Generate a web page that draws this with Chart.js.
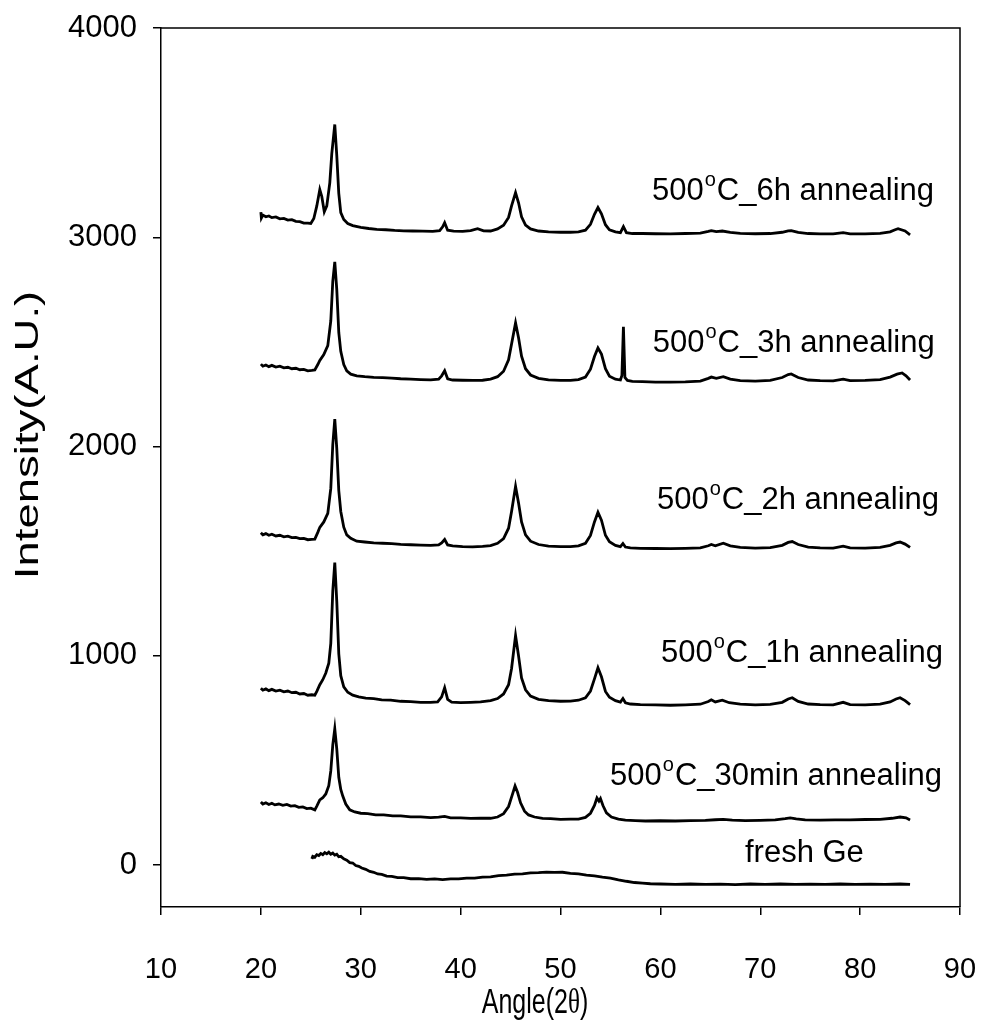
<!DOCTYPE html>
<html>
<head>
<meta charset="utf-8">
<script src="https://cdn.jsdelivr.net/npm/chart.js@4.4.1/dist/chart.umd.min.js"></script>
<style>
html, body { margin: 0; padding: 0; background: #fff; }
canvas { display: block; }
</style>
</head>
<body>
<canvas id="xrd" width="982" height="1030"></canvas>
<script>
// Tick values for both axes
const xTicks = [10, 20, 30, 40, 50, 60, 70, 80, 90];
const yTicks = [0, 1000, 2000, 3000, 4000];

// XRD scans: [2theta (deg), intensity (a.u., offset per sample)]
const freshGe = [[25.1,30],[25.2,42],[25.4,38],[25.6,50],[25.8,46],[26.0,56],[26.2,50],[26.4,60],[26.6,54],[26.8,62],[27.0,52],[27.2,58],[27.4,48],[27.6,52],[27.8,40],[28.0,42],[28.3,30],[28.6,24],[28.9,12],[29.2,10],[29.5,-2],[29.8,-6],[30.1,-14],[30.5,-20],[30.9,-30],[31.3,-34],[31.7,-42],[32.1,-44],[32.6,-52],[33.1,-54],[33.7,-60],[34.3,-60],[35.0,-65],[35.8,-64],[36.6,-68],[37.4,-66],[38.2,-69],[39.0,-66],[39.8,-66],[40.6,-62],[41.4,-62],[42.2,-57],[43.0,-56],[43.8,-50],[44.6,-48],[45.4,-43],[46.2,-42],[47.0,-37],[47.8,-36],[48.6,-33],[49.4,-35],[50.2,-34],[51.0,-39],[51.8,-42],[52.6,-48],[53.4,-51],[54.2,-57],[55.0,-62],[55.8,-70],[56.6,-77],[57.4,-83],[58.2,-86],[59.0,-89],[60.0,-90],[61.5,-92],[63.0,-90],[64.5,-92],[66.0,-91],[67.5,-93],[69.0,-90],[70.5,-92],[72.0,-90],[73.5,-92],[75.0,-91],[76.5,-92],[78.0,-90],[79.5,-92],[81.0,-91],[82.5,-92],[84.0,-90],[85.0,-92]];

const anneal30min = [[20.0,302],[20.2,292],[20.5,298],[20.8,290],[21.1,296],[21.4,288],[21.8,292],[22.2,286],[22.6,290],[23.0,282],[23.4,284],[23.8,276],[24.2,278],[24.6,270],[25.0,272],[25.4,264],[25.6,282],[25.9,312],[26.2,322],[26.5,340],[26.8,380],[27.0,450],[27.2,575],[27.4,651],[27.6,555],[27.8,420],[28.0,362],[28.2,330],[28.5,292],[28.9,264],[29.4,254],[30.0,248],[30.7,246],[31.5,240],[32.3,240],[33.2,235],[34.0,235],[35.0,231],[36.0,231],[37.0,227],[37.8,229],[38.4,233],[39.0,226],[40.0,226],[41.0,223],[42.0,224],[43.0,224],[43.7,230],[44.3,246],[44.8,280],[45.1,325],[45.45,378],[45.7,348],[46.0,298],[46.4,258],[46.8,240],[47.4,230],[48.2,223],[49.0,222],[50.0,219],[51.0,220],[51.8,220],[52.5,228],[53.0,248],[53.4,285],[53.65,321],[53.85,306],[54.0,318],[54.25,285],[54.6,250],[55.1,230],[55.8,220],[56.5,215],[57.5,213],[58.5,211],[60.0,212],[61.5,211],[63.0,213],[64.5,214],[65.5,217],[66.3,219],[67.2,215],[68.5,213],[70.0,214],[71.5,216],[72.5,222],[73.0,226],[73.6,221],[74.5,216],[76.0,215],[77.5,216],[79.0,216],[80.5,218],[82.0,219],[83.2,224],[84.0,230],[84.6,226],[85.0,216]];

const anneal1h = [[20.0,845],[20.2,836],[20.5,842],[20.8,834],[21.1,840],[21.5,832],[21.9,836],[22.3,828],[22.7,832],[23.1,824],[23.5,826],[23.9,818],[24.3,820],[24.7,812],[25.1,814],[25.4,812],[25.6,830],[25.9,862],[26.2,886],[26.5,918],[26.8,965],[27.0,1060],[27.2,1310],[27.4,1446],[27.6,1260],[27.8,1010],[28.0,905],[28.3,852],[28.7,826],[29.2,812],[29.8,804],[30.5,798],[31.3,796],[32.1,790],[33.0,788],[34.0,783],[35.0,781],[36.0,778],[37.0,778],[37.7,780],[38.1,804],[38.4,848],[38.7,792],[39.1,779],[40.0,777],[41.0,778],[42.0,780],[43.0,786],[43.7,796],[44.3,818],[44.8,862],[45.1,940],[45.5,1097],[45.8,1000],[46.1,895],[46.5,838],[47.0,808],[47.8,792],[48.8,786],[50.0,783],[51.0,784],[51.8,788],[52.5,800],[53.0,832],[53.4,890],[53.75,943],[54.1,900],[54.5,830],[54.9,802],[55.5,786],[56.0,779],[56.25,796],[56.5,776],[57.0,770],[58.0,767],[59.5,766],[61.0,764],[62.5,766],[64.0,769],[64.8,782],[65.1,790],[65.5,780],[66.2,788],[66.9,776],[68.0,769],[69.5,766],[71.0,768],[72.2,778],[72.8,794],[73.2,800],[73.8,782],[74.8,770],[76.0,767],[77.3,766],[78.3,778],[79.0,767],[80.5,766],[82.0,769],[83.0,780],[83.6,794],[84.0,800],[84.5,786],[85.0,767]];

const anneal2h = [[20.0,1588],[20.2,1578],[20.5,1584],[20.8,1576],[21.1,1581],[21.5,1573],[21.9,1576],[22.3,1569],[22.7,1572],[23.1,1565],[23.5,1566],[23.9,1560],[24.3,1561],[24.7,1555],[25.1,1557],[25.4,1558],[25.7,1590],[25.9,1614],[26.3,1640],[26.7,1681],[27.0,1800],[27.2,2010],[27.4,2131],[27.6,1990],[27.8,1790],[28.0,1690],[28.3,1615],[28.6,1578],[29.0,1562],[29.6,1548],[30.4,1544],[31.3,1540],[32.2,1538],[33.1,1536],[34.0,1533],[35.0,1531],[36.0,1529],[37.0,1528],[37.8,1530],[38.1,1540],[38.4,1556],[38.7,1530],[39.2,1525],[40.2,1522],[41.2,1521],[42.2,1523],[43.0,1527],[43.7,1538],[44.3,1560],[44.8,1610],[45.1,1690],[45.5,1810],[45.8,1730],[46.1,1640],[46.5,1578],[47.0,1548],[47.8,1532],[48.8,1524],[50.0,1522],[51.0,1522],[51.8,1526],[52.5,1538],[53.0,1575],[53.4,1640],[53.75,1686],[54.1,1648],[54.5,1576],[54.9,1545],[55.5,1528],[56.0,1522],[56.25,1537],[56.5,1520],[57.0,1516],[58.0,1514],[59.5,1513],[61.0,1512],[62.5,1514],[64.0,1516],[64.8,1526],[65.1,1532],[65.5,1526],[66.3,1538],[67.0,1526],[68.0,1518],[69.5,1515],[71.0,1517],[72.2,1528],[72.8,1542],[73.2,1546],[73.8,1532],[74.8,1520],[76.0,1516],[77.3,1515],[78.3,1524],[79.0,1516],[80.5,1515],[82.0,1518],[83.0,1528],[83.6,1540],[84.0,1544],[84.5,1534],[85.0,1518]];

const anneal3h = [[20.0,2394],[20.2,2384],[20.5,2390],[20.8,2382],[21.1,2388],[21.5,2380],[21.9,2384],[22.3,2376],[22.7,2379],[23.1,2372],[23.5,2374],[23.9,2367],[24.3,2369],[24.7,2362],[25.1,2364],[25.4,2366],[25.7,2392],[25.9,2412],[26.3,2440],[26.7,2482],[27.0,2600],[27.2,2790],[27.4,2883],[27.6,2750],[27.8,2545],[28.0,2455],[28.3,2392],[28.6,2362],[29.0,2346],[29.6,2338],[30.4,2334],[31.3,2331],[32.2,2329],[33.1,2327],[34.0,2324],[35.0,2322],[36.0,2320],[37.0,2319],[37.8,2322],[38.1,2338],[38.4,2362],[38.7,2324],[39.2,2318],[40.2,2317],[41.2,2316],[42.2,2317],[43.0,2322],[43.7,2334],[44.3,2360],[44.8,2415],[45.1,2490],[45.5,2591],[45.8,2520],[46.1,2432],[46.5,2372],[47.0,2342],[47.8,2326],[48.8,2319],[50.0,2316],[51.0,2316],[51.8,2320],[52.5,2332],[53.0,2370],[53.4,2430],[53.75,2471],[54.1,2442],[54.5,2372],[54.9,2336],[55.5,2322],[56.0,2318],[56.15,2340],[56.3,2572],[56.45,2330],[56.7,2316],[57.2,2312],[58.2,2310],[59.5,2308],[61.0,2308],[62.5,2309],[64.0,2313],[64.8,2326],[65.1,2332],[65.6,2326],[66.3,2334],[67.0,2322],[68.0,2315],[69.5,2313],[71.0,2316],[72.2,2330],[72.8,2344],[73.1,2347],[73.8,2330],[74.8,2318],[76.0,2315],[77.3,2314],[78.3,2322],[79.0,2315],[80.5,2316],[82.0,2320],[83.0,2332],[83.7,2346],[84.2,2352],[84.6,2338],[85.0,2318]];

const anneal6h = [[20.0,3120],[20.05,3092],[20.2,3106],[20.5,3098],[20.8,3102],[21.1,3094],[21.5,3097],[21.9,3088],[22.3,3090],[22.7,3082],[23.1,3084],[23.5,3076],[23.9,3075],[24.3,3068],[24.7,3068],[25.0,3066],[25.3,3090],[25.6,3150],[25.9,3228],[26.1,3195],[26.35,3122],[26.6,3150],[26.9,3260],[27.1,3400],[27.4,3539],[27.6,3390],[27.8,3210],[28.0,3118],[28.3,3085],[28.7,3066],[29.2,3056],[30.0,3047],[30.8,3042],[31.6,3038],[32.5,3036],[33.4,3033],[34.3,3031],[35.2,3030],[36.2,3029],[37.2,3028],[37.9,3032],[38.2,3050],[38.4,3070],[38.7,3034],[39.3,3029],[40.2,3028],[41.0,3032],[41.7,3041],[42.3,3031],[43.0,3030],[43.7,3040],[44.3,3058],[44.8,3095],[45.1,3150],[45.5,3213],[45.8,3165],[46.1,3098],[46.5,3058],[47.0,3040],[47.8,3030],[48.8,3026],[50.0,3024],[51.0,3024],[51.8,3026],[52.5,3034],[53.0,3062],[53.4,3110],[53.75,3142],[54.1,3112],[54.5,3060],[54.9,3036],[55.5,3026],[56.0,3022],[56.3,3051],[56.6,3022],[57.2,3018],[58.2,3018],[59.5,3017],[61.0,3016],[62.5,3018],[64.0,3020],[64.8,3028],[65.1,3032],[65.6,3027],[66.2,3030],[67.0,3023],[68.0,3019],[69.5,3017],[71.0,3018],[72.2,3024],[72.8,3031],[73.1,3032],[73.8,3023],[74.8,3018],[76.0,3016],[77.3,3016],[78.3,3022],[79.0,3016],[80.5,3016],[82.0,3019],[83.0,3026],[83.5,3036],[83.8,3041],[84.5,3030],[85.0,3012]];

const scans = [freshGe, anneal30min, anneal1h, anneal2h, anneal3h, anneal6h];
const sampleNames = ['fresh Ge', '500°C_30min annealing', '500°C_1h annealing',
                     '500°C_2h annealing', '500°C_3h annealing', '500°C_6h annealing'];
// where each sample name sits, in data units (left edge, text baseline)
const nameAnchors = [[68.47, 15], [54.96, 383], [60.06, 971], [59.66, 1702], [59.23, 2452], [59.16, 3178]];

const SANS = '"Liberation Sans", Arial, Helvetica, sans-serif';
const SERIF = '"Liberation Serif", "Times New Roman", serif';

const decorations = {
  id: 'decorations',
  afterDraw(chart) {
    const { ctx, chartArea: a, scales: { x, y } } = chart;
    ctx.save();
    // close the frame on top and right
    ctx.strokeStyle = '#000';
    ctx.lineWidth = 1.5;
    ctx.beginPath();
    ctx.moveTo(a.left, a.top);
    ctx.lineTo(a.right, a.top);
    ctx.lineTo(a.right, a.bottom);
    ctx.stroke();

    // sample names beside each scan, degree sign as a raised "o"
    ctx.fillStyle = '#000';
    ctx.textAlign = 'left';
    ctx.textBaseline = 'alphabetic';
    sampleNames.forEach((name, i) => {
      let px = x.getPixelForValue(nameAnchors[i][0]);
      const py = y.getPixelForValue(nameAnchors[i][1]);
      const parts = name.split('°');
      ctx.font = '31px ' + SANS;
      ctx.fillText(parts[0], px, py);
      px += ctx.measureText(parts[0]).width;
      if (parts.length > 1) {
        ctx.font = '20px ' + SANS;
        ctx.fillText('o', px + 1, py - 14);
        px += ctx.measureText('o').width + 2;
        ctx.font = '31px ' + SANS;
        ctx.fillText(parts[1], px, py);
      }
    });

    // x axis title: Angle(2θ), drawn a little taller than wide
    ctx.save();
    ctx.translate(535, 1013);
    ctx.scale(1, 1.4);
    ctx.font = '25px ' + SANS;
    const t1 = 'Angle(2', t3 = ')';
    const w1 = ctx.measureText(t1).width, w3 = ctx.measureText(t3).width;
    ctx.font = '25px ' + SERIF;
    const w2 = ctx.measureText('θ').width;
    const tx = -(w1 + w2 + w3) / 2;
    ctx.font = '25px ' + SANS;
    ctx.fillText(t1, tx, 0);
    ctx.font = '25px ' + SERIF;
    ctx.fillText('θ', tx + w1, 0);
    ctx.font = '25px ' + SANS;
    ctx.fillText(t3, tx + w1 + w2, 0);
    ctx.restore();

    // y axis title, stretched along its length
    ctx.save();
    ctx.translate(38, 435);
    ctx.rotate(-Math.PI / 2);
    ctx.scale(1.38, 1);
    ctx.textAlign = 'center';
    ctx.font = '33px ' + SANS;
    ctx.fillText('Intensity(A.U.)', 0, 0);
    ctx.restore();
    ctx.restore();
  }
};

new Chart(document.getElementById('xrd'), {
  type: 'line',
  data: {
    datasets: scans.map((s, i) => ({
      label: sampleNames[i],
      data: s.map(([a, v]) => ({ x: a, y: v })),
      borderColor: '#000',
      borderWidth: 2.8,
      pointRadius: 0,
      tension: 0,
      fill: false
    }))
  },
  options: {
    responsive: false,
    animation: false,
    devicePixelRatio: 1,
    layout: { padding: { top: 28, right: 22, left: 0, bottom: 0 } },
    plugins: { legend: { display: false }, tooltip: { enabled: false } },
    scales: {
      x: {
        type: 'linear',
        min: 10, max: 90,
        afterBuildTicks: s => { s.ticks = xTicks.map(v => ({ value: v })); },
        afterFit: s => { s.height = 123; s.paddingLeft = 0; s.paddingRight = 0; },
        ticks: { font: { family: SANS, size: 29 }, color: '#000', padding: 38, maxRotation: 0, autoSkip: false,
                 callback: v => String(v) },
        grid: { display: true, drawOnChartArea: false, drawTicks: true, tickLength: 8, color: '#000', lineWidth: 1.5 },
        border: { display: true, color: '#000', width: 1.5 }
      },
      y: {
        type: 'linear',
        min: -200, max: 4000,
        afterBuildTicks: s => { s.ticks = yTicks.map(v => ({ value: v })); },
        afterFit: s => { s.width = 161; s.paddingTop = 0; s.paddingBottom = 0; },
        ticks: { font: { family: SANS, size: 31 }, color: '#000', padding: 16, callback: v => String(v) },
        grid: { display: true, drawOnChartArea: false, drawTicks: true, tickLength: 8, color: '#000', lineWidth: 1.5 },
        border: { display: true, color: '#000', width: 1.5 }
      }
    }
  },
  plugins: [decorations]
});
</script>
</body>
</html>
